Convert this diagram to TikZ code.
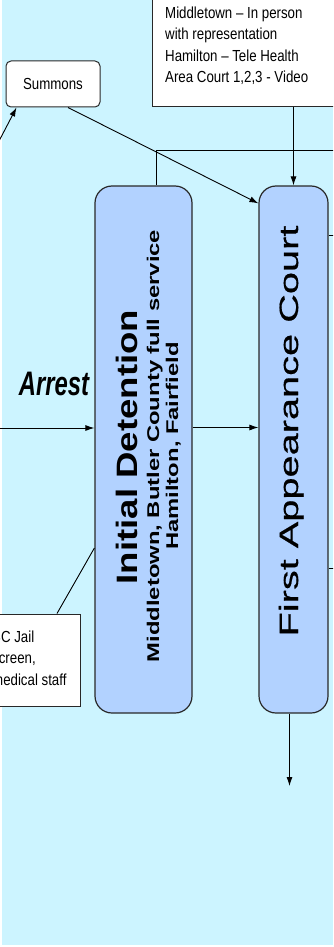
\documentclass[tikz,border=0pt]{standalone}
\usepackage{fontspec}
\setmainfont{Liberation Sans}
\newfontfamily\notefont{Liberation Sans}[FakeStretch=0.83]
\newfontfamily\arrestfont{Liberation Sans}[FakeStretch=0.7]
\newfontfamily\detfont{Liberation Sans}[FakeStretch=1.24]
\newfontfamily\subfont{Liberation Sans}[FakeStretch=1.4]
\newfontfamily\courtfont{Liberation Sans}[FakeStretch=1.5,FakeBold=0.6]
\usetikzlibrary{arrows.meta}
\definecolor{bgcyan}{RGB}{204,244,255}
\definecolor{boxblue}{RGB}{178,210,255}
\definecolor{edge}{RGB}{40,40,40}

\begin{document}
\begin{tikzpicture}[x=1pt,y=-1pt,>={Latex[length=9pt,width=6pt]},
    stage/.style={draw=edge,line width=1.2pt,fill=boxblue,rounded corners=17pt,inner sep=0pt},
    notebox/.style={draw=edge,line width=1pt,fill=white,inner sep=0pt},
    notetext/.style={font=\notefont\fontsize{16}{21.5}\selectfont,inner sep=0pt,align=left},
    flow/.style={->,line width=0.9pt}]
          \clip (0,0) rectangle (333,947);
          \fill[bgcyan] (2,0) rectangle (333,945);
          % boxes
          \node[stage,minimum width=97pt,minimum height=527pt] (det) at (143.5,449.5) {};
          \node[stage,minimum width=69pt,minimum height=527pt] (fac) at (293.5,449.5) {};
          \node[notebox,rounded corners=5pt,minimum width=94pt,minimum height=46pt,
                font=\notefont\fontsize{16}{18}\selectfont] (summons) at (53,84) {Summons};
          \node[notebox,minimum width=190pt,minimum height=120pt] (hearing) at (247,47) {};
          \node[notetext,anchor=west] (hearingText) at (165,45.5)
                {Middletown – In person\\with representation\\Hamilton – Tele Health\\Area Court 1,2,3 - Video};
          \node[notebox,minimum width=100pt,minimum height=92pt] (jail) at (30,660) {};
          \node[notetext,anchor=west] (jailText) at (-8,658) {BC Jail\\screen,\\medical staff};
          % box texts
          \node[rotate=90,anchor=base,inner sep=0pt,font=\detfont\bfseries\fontsize{29.5}{30}\selectfont]
                (detTitle) at (137,447) {Initial Detention};
          \node[rotate=90,anchor=base,inner sep=0pt,font=\subfont\bfseries\fontsize{17}{18}\selectfont]
                (detSubA) at (159,446) {Middletown, Butler County full service};
          \node[rotate=90,anchor=base,inner sep=0pt,font=\subfont\bfseries\fontsize{17}{18}\selectfont]
                (detSubB) at (178,446) {Hamilton, Fairfield};
          \node[rotate=90,anchor=base,inner sep=0pt,font=\courtfont\fontsize{26.5}{27}\selectfont]
                (facTitle) at (298,431) {First Appearance Court};
          \node[anchor=base,inner sep=0pt,font=\arrestfont\bfseries\itshape\fontsize{34}{34}\selectfont]
                (arrestLabel) at (54,395) {Arrest};
          % free ends
          \coordinate (offLeft) at (-2,143);
          \coordinate (arrestIn) at (-2,428);
          \coordinate (topRight) at (340,150);
          \coordinate (outA) at (340,235);
          \coordinate (outB) at (340,568);
          \coordinate (next) at (289.5,786);
          % connectors
          \draw[flow] (offLeft) -- ([xshift=11pt]summons.south west);
          \draw[flow] ([xshift=15pt]summons.south) -- ([yshift=-18pt]fac.north west);
          \draw[flow] (hearing.south -| fac.north) -- (fac.north);
          \draw[line width=0.9pt] ([xshift=13pt]det.north) |- (topRight);
          \draw[flow] (arrestIn) -- (arrestIn -| det.west);
          \draw[flow] ([yshift=22pt]det.east) -- ([yshift=22pt]fac.west);
          \draw[line width=0.9pt] (fac.east |- outA) -- (outA);
          \draw[line width=0.9pt] (fac.east |- outB) -- (outB);
          \draw[flow] (fac.south -| next) -- (next);
          \draw[line width=0.9pt] ([xshift=27pt]jail.north) -- ([yshift=-98.5pt]det.west);
        \end{tikzpicture}
\end{document}
